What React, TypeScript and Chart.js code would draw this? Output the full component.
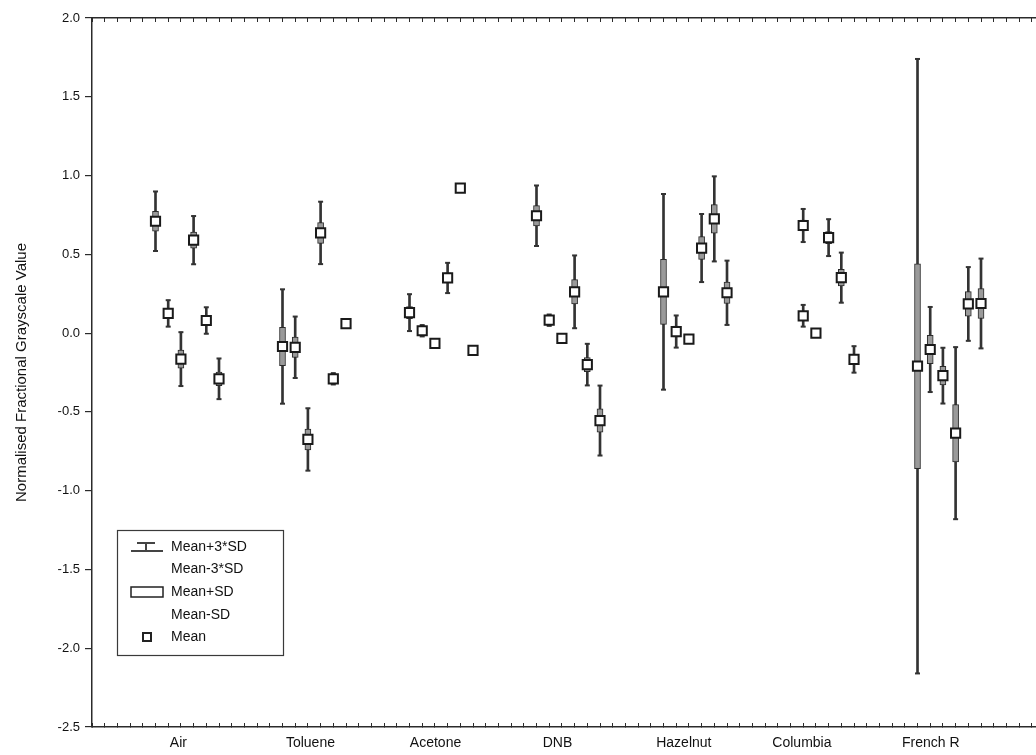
import React, { useEffect, useRef } from 'react';
import { Chart, registerables } from 'chart.js';

Chart.register(...registerables);

// ---- categories and tick labels ----
const categories = ['Air', 'Toluene', 'Acetone', 'DNB', 'Hazelnut', 'Columbia', 'French R'];
const categoryLabelPos = [5.8, 16.2, 26.05, 35.65, 45.6, 54.9, 65.05];
const yTickMin = -2.5;
const yTickMax = 2.0;
const yTickStep = 0.5;
const xMin = -1;
const xMax = 73.33;

// ---- sensor positions on the x scale, per category ----
const airX = [4, 5, 6, 7, 8, 9];
const tolueneX = [14, 15, 16, 17, 18, 19];
const acetoneX = [24, 25, 26, 27, 28, 29];
const dnbX = [34, 35, 36, 37, 38, 39];
const hazelnutX = [44, 45, 46, 47, 48, 49];
const columbiaX = [55, 55, 56, 57, 58, 59];
const frenchX = [64, 65, 66, 67, 68, 69];

// ---- means ----
const airMean = [0.71, 0.125, -0.165, 0.59, 0.08, -0.29];
const tolueneMean = [-0.085, -0.09, -0.675, 0.636, -0.29, 0.06];
const acetoneMean = [0.13, 0.015, -0.065, 0.35, 0.92, -0.11];
const dnbMean = [0.745, 0.082, -0.034, 0.262, -0.2, -0.555];
const hazelnutMean = [0.262, 0.01, -0.038, 0.54, 0.725, 0.256];
const columbiaMean = [0.683, 0.11, 0.0, 0.606, 0.352, -0.167];
const frenchMean = [-0.21, -0.104, -0.27, -0.635, 0.185, 0.188];

// ---- standard deviations ----
const airSD = [0.063, 0.028, 0.057, 0.051, 0.028, 0.043];
const tolueneSD = [0.121, 0.065, 0.066, 0.066, 0.012, 0.005];
const acetoneSD = [0.039, 0.012, 0.005, 0.032, 0.008, 0.004];
const dnbSD = [0.064, 0.012, 0.004, 0.077, 0.044, 0.074];
const hazelnutSD = [0.207, 0.034, 0.005, 0.072, 0.09, 0.068];
const columbiaSD = [0.035, 0.023, 0.004, 0.039, 0.053, 0.028];
const frenchSD = [0.65, 0.09, 0.059, 0.182, 0.078, 0.095];

const legendLabels = ['Mean+3*SD', 'Mean-3*SD', 'Mean+SD', 'Mean-SD', 'Mean'];

const groups = [
  { x: airX, mean: airMean, sd: airSD },
  { x: tolueneX, mean: tolueneMean, sd: tolueneSD },
  { x: acetoneX, mean: acetoneMean, sd: acetoneSD },
  { x: dnbX, mean: dnbMean, sd: dnbSD },
  { x: hazelnutX, mean: hazelnutMean, sd: hazelnutSD },
  { x: columbiaX, mean: columbiaMean, sd: columbiaSD },
  { x: frenchX, mean: frenchMean, sd: frenchSD },
];

const FONT = "'Liberation Sans', Arial, Helvetica, sans-serif";
const INK = '#2b2b2b';
const TEXT = '#111111';

const legendPlugin = {
  id: 'statLegend',
  afterDraw(chart: any) {
    const { ctx, chartArea } = chart;
    const left = chartArea.left + 25;
    const top = chartArea.bottom - 197;
    const w = 166;
    const h = 125;
    ctx.save();
    ctx.fillStyle = '#ffffff';
    ctx.fillRect(left, top, w, h);
    ctx.strokeStyle = '#3a3a3a';
    ctx.lineWidth = 1.2;
    ctx.strokeRect(left + 0.5, top + 0.5, w, h);

    const sx = left + 14;
    const sw = 32;
    const cx = sx + sw / 2;
    // I-beam (whisker) symbol
    ctx.strokeStyle = '#444';
    ctx.lineWidth = 2;
    ctx.beginPath();
    ctx.moveTo(sx + 6, top + 13);
    ctx.lineTo(sx + sw - 8, top + 13);
    ctx.moveTo(cx - 1, top + 13);
    ctx.lineTo(cx - 1, top + 21);
    ctx.moveTo(sx, top + 21);
    ctx.lineTo(sx + sw, top + 21);
    ctx.stroke();
    // rectangle (box) symbol
    ctx.strokeStyle = '#222';
    ctx.lineWidth = 1.5;
    ctx.strokeRect(sx, top + 57, sw, 10);
    // mean marker symbol
    ctx.lineWidth = 2;
    ctx.strokeRect(cx - 4, top + 103, 8, 8);

    ctx.fillStyle = TEXT;
    ctx.font = `14px ${FONT}`;
    ctx.textBaseline = 'middle';
    ctx.textAlign = 'left';
    const tx = left + 54;
    const ys = [17, 39, 62, 85, 107];
    legendLabels.forEach((t, i) => ctx.fillText(t, tx, top + ys[i]));
    ctx.restore();
  },
};

const zeroPad = (s: any) => {
  s.paddingLeft = 0;
  s.paddingRight = 0;
};

export default function App() {
  const ref = useRef<HTMLCanvasElement | null>(null);

  useEffect(() => {
    if (!ref.current) return;
    const whiskerData: any[] = [];
    const capData: any[] = [];
    const boxData: any[] = [];
    const meanData: any[] = [];
    groups.forEach((g) => {
      g.mean.forEach((m, i) => {
        const x = g.x[i];
        const s = g.sd[i];
        whiskerData.push({ x, y: [m - 3 * s, m + 3 * s] });
        capData.push({ x, y: m - 3 * s });
        capData.push({ x, y: m + 3 * s });
        boxData.push({ x, y: [m - s, m + s] });
        meanData.push({ x, y: m });
      });
    });

    Chart.defaults.font.family = FONT;
    Chart.defaults.font.size = 12;
    Chart.defaults.color = TEXT;

    const chart = new Chart(ref.current, {
      type: 'bar',
      data: {
        datasets: [
          {
            type: 'bar',
            label: 'Mean±3*SD',
            data: whiskerData,
            backgroundColor: '#333333',
            borderWidth: 0,
            barThickness: 2,
            grouped: false,
            order: 4,
            xAxisID: 'x',
            yAxisID: 'y',
          } as any,
          {
            type: 'scatter',
            label: 'caps',
            data: capData,
            pointStyle: 'line',
            pointRadius: 2.5,
            borderColor: '#333333',
            borderWidth: 2,
            order: 3,
            xAxisID: 'x',
            yAxisID: 'y',
          } as any,
          {
            type: 'bar',
            label: 'Mean±SD',
            data: boxData,
            backgroundColor: '#9a9a9a',
            borderColor: '#2a2a2a',
            borderWidth: 1,
            borderSkipped: false,
            barThickness: 6,
            grouped: false,
            order: 2,
            xAxisID: 'x',
            yAxisID: 'y',
          } as any,
          {
            type: 'scatter',
            label: 'Mean',
            data: meanData,
            pointStyle: 'rect',
            pointRadius: 6.5,
            backgroundColor: '#ffffff',
            borderColor: '#1a1a1a',
            borderWidth: 2,
            order: 1,
            xAxisID: 'x',
            yAxisID: 'y',
          } as any,
        ],
      },
      options: {
        responsive: false,
        animation: false,
        events: [],
        layout: { autoPadding: false, padding: { top: 18, left: 0, right: 0, bottom: 0 } },
        plugins: { legend: { display: false }, tooltip: { enabled: false } },
        scales: {
          x: {
            type: 'linear',
            position: 'bottom',
            weight: 0,
            min: xMin,
            max: xMax,
            offset: false,
            afterFit: (s: any) => {
              s.height = 0;
              zeroPad(s);
            },
            ticks: { display: false, stepSize: 1, includeBounds: false, autoSkip: false },
            grid: { drawOnChartArea: false, drawTicks: true, tickLength: -4, color: INK, lineWidth: 1, offset: false },
            border: { display: true, color: INK, width: 1.5 },
          },
          xl: {
            type: 'linear',
            position: 'bottom',
            axis: 'x',
            weight: 1,
            min: xMin,
            max: xMax,
            offset: false,
            afterBuildTicks: (s: any) => {
              s.ticks = categoryLabelPos.map((v) => ({ value: v }));
            },
            afterFit: (s: any) => {
              s.height = 28;
              zeroPad(s);
            },
            ticks: {
              autoSkip: false,
              maxRotation: 0,
              minRotation: 0,
              padding: 8,
              color: TEXT,
              font: { size: 14 },
              callback: (_v: any, i: number) => categories[i],
            },
            grid: { display: false, drawTicks: false },
            border: { display: false },
          },
          xt: {
            type: 'linear',
            position: 'top',
            axis: 'x',
            min: xMin,
            max: xMax,
            offset: false,
            afterFit: (s: any) => {
              s.height = 0;
              zeroPad(s);
            },
            ticks: { display: false, stepSize: 1, includeBounds: false, autoSkip: false },
            grid: { drawOnChartArea: false, drawTicks: true, tickLength: -4, color: INK, lineWidth: 1, offset: false },
            border: { display: true, color: INK, width: 1.5 },
          },
          y: {
            type: 'linear',
            position: 'left',
            min: yTickMin,
            max: yTickMax,
            afterFit: (s: any) => {
              s.width = 92;
            },
            ticks: {
              stepSize: yTickStep,
              padding: 5,
              color: TEXT,
              font: { size: 13 },
              callback: (v: any) => {
                const n = Math.abs(Number(v)) < 1e-9 ? 0 : Number(v);
                return n.toFixed(1);
              },
            },
            grid: { drawOnChartArea: false, drawTicks: true, tickLength: 7, color: INK, lineWidth: 1.2 },
            border: { display: true, color: INK, width: 1.5 },
            title: {
              display: true,
              text: 'Normalised Fractional Grayscale Value',
              color: TEXT,
              font: { size: 15 },
              padding: { top: 13, bottom: 0 },
            },
          },
        },
      } as any,
      plugins: [legendPlugin],
    });
    return () => chart.destroy();
  }, []);

  return (
    <div style={{ position: 'fixed', left: 0, top: 0, width: 1036, height: 755, background: '#fff' }}>
      <canvas ref={ref} width={1036} height={755} style={{ display: 'block' }} />
    </div>
  );
}
